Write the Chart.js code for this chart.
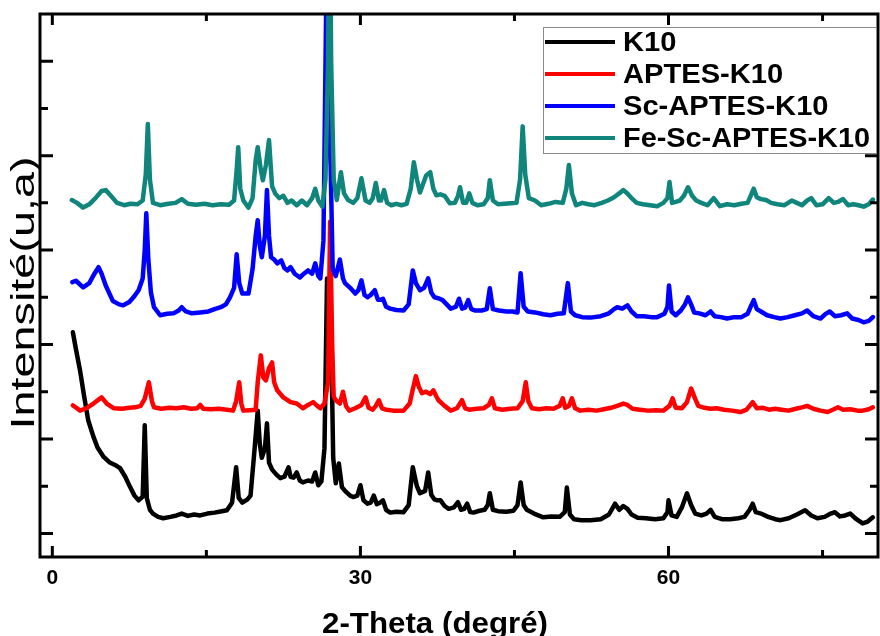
<!DOCTYPE html>
<html>
<head>
<meta charset="utf-8">
<script src="https://cdn.jsdelivr.net/npm/chart.js@4.4.1/dist/chart.umd.min.js"></script>
<style>
html, body { margin: 0; padding: 0; background: #fff; }
</style>
</head>
<body>
<canvas id="xrd" width="880" height="636"></canvas>
<script>
const FONT = '"Liberation Sans", Arial, sans-serif';

const seriesNames = ['K10', 'APTES-K10', 'Sc-APTES-K10', 'Fe-Sc-APTES-K10'];
const seriesColors = ['#000000', '#ff0000', '#0000ff', '#10857c'];

const xTicks = [0, 15, 30, 45, 60, 75];
const xLabels = [0, 30, 60];
const yTicks = [0, 1, 2, 3, 4, 5, 6, 7, 8, 9, 10];
const yMajor = [0, 2, 4, 6, 8, 10];

// K10
const k10Theta = [
  2.0, 2.3, 2.7, 3.1, 3.5, 4.0, 4.4, 5.0, 5.6, 6.1,
  6.6, 7.1, 7.6, 8.0, 8.4, 8.8, 9.0, 9.2, 9.5, 9.8,
  10.3, 10.8, 11.5, 12.1, 12.6, 13.2, 13.8, 14.4, 15.1, 15.8,
  16.5, 17.0, 17.5, 17.9, 18.15, 18.5, 19.0, 19.3, 19.7, 20.0,
  20.2, 20.4, 20.7, 20.9, 21.1, 21.4, 21.8, 22.2, 22.6, 23.0,
  23.2, 23.5, 23.8, 24.1, 24.4, 24.9, 25.3, 25.6, 25.9, 26.2,
  26.5, 26.75, 26.95, 27.15, 27.35, 27.6, 27.9, 28.2, 28.5, 29.0,
  29.3, 29.7, 30.0, 30.3, 30.7, 31.0, 31.3, 31.6, 31.9, 32.2,
  32.5, 32.9, 33.5, 34.2, 34.7, 35.1, 35.5, 35.8, 36.3, 36.6,
  36.9, 37.2, 37.5, 37.8, 38.2, 38.6, 39.1, 39.5, 39.8, 40.1,
  40.4, 40.7, 41.0, 41.6, 42.1, 42.4, 42.6, 42.9, 43.4, 44.2,
  44.9, 45.3, 45.6, 45.9, 46.2, 46.9, 47.8, 48.6, 49.4, 49.9,
  50.1, 50.4, 50.8, 51.5, 52.4, 53.4, 54.2, 54.8, 55.2, 55.6,
  56.0, 56.4, 57.0, 57.8, 58.7, 59.5, 59.9, 60.0, 60.3, 60.8,
  61.3, 61.8, 62.2, 62.6, 63.2, 63.7, 64.1, 64.5, 65.2, 66.0,
  66.8, 67.4, 67.9, 68.2, 68.5, 69.0, 69.7, 70.4, 70.9, 71.7,
  72.5, 73.3, 73.9, 74.5, 75.2, 75.8, 76.2, 76.7, 77.2, 77.7,
  78.3, 78.9, 79.4, 79.9
];
const k10Int = [
  4.26, 3.9, 3.45, 2.9, 2.39, 2.05, 1.82, 1.62, 1.5, 1.45,
  1.38, 1.2, 0.97, 0.8, 0.7, 0.78, 2.29, 0.75, 0.5, 0.42,
  0.35, 0.32, 0.35, 0.38, 0.42, 0.37, 0.4, 0.38, 0.42, 0.44,
  0.47, 0.49, 0.65, 1.4, 0.75, 0.65, 0.72, 0.8, 1.8, 2.6,
  1.9, 1.6, 1.8, 2.33, 1.5, 1.35, 1.25, 1.17, 1.2, 1.4,
  1.2, 1.18, 1.29, 1.12, 1.08, 1.12, 1.1, 1.29, 1.02, 1.1,
  1.8, 5.4, 3.6, 4.2, 1.6, 1.06, 1.48, 0.98, 0.9, 0.8,
  0.77, 0.8, 1.02, 0.7, 0.63, 0.65, 0.8, 0.62, 0.65, 0.7,
  0.5, 0.44, 0.46, 0.45, 0.6, 1.4, 1.0, 0.85, 0.9, 1.29,
  0.82, 0.72, 0.7, 0.7, 0.58, 0.52, 0.55, 0.66, 0.5, 0.52,
  0.63, 0.45, 0.44, 0.48, 0.5, 0.6, 0.85, 0.5, 0.47, 0.46,
  0.48, 0.6, 1.08, 0.6, 0.5, 0.42, 0.34, 0.36, 0.35, 0.45,
  0.97, 0.4, 0.3, 0.28, 0.28, 0.3, 0.4, 0.63, 0.5, 0.58,
  0.52, 0.4, 0.33, 0.32, 0.3, 0.32, 0.45, 0.7, 0.38, 0.35,
  0.55, 0.85, 0.6, 0.42, 0.38, 0.42, 0.5, 0.35, 0.3, 0.3,
  0.32, 0.35, 0.5, 0.63, 0.45, 0.42, 0.35, 0.3, 0.28, 0.32,
  0.4, 0.49, 0.38, 0.32, 0.35, 0.42, 0.45, 0.36, 0.38, 0.42,
  0.3, 0.21, 0.25, 0.34
];

// APTES-K10
const aptesTheta = [
  2.0, 2.4, 2.7, 3.3, 4.0, 4.8, 5.3, 6.0, 6.8, 7.5,
  8.1, 8.6, 9.0, 9.4, 9.7, 9.9, 10.6, 11.4, 12.1, 12.8,
  13.5, 14.1, 14.4, 14.7, 15.4, 16.2, 17.0, 17.6, 17.9, 18.2,
  18.4, 18.6, 19.2, 19.8, 20.0, 20.3, 20.55, 20.8, 21.1, 21.4,
  21.6, 21.9, 22.5, 23.2, 23.8, 24.4, 24.9, 25.4, 25.8, 26.1,
  26.5, 26.85, 27.05, 27.25, 27.4, 27.6, 28.0, 28.3, 28.6, 28.9,
  29.5, 30.1, 30.5, 30.8, 31.2, 31.5, 31.8, 32.1, 32.5, 33.2,
  34.2, 34.8, 35.1, 35.4, 35.7, 36.0, 36.4, 36.8, 37.1, 37.4,
  37.6, 38.2, 38.8, 39.4, 39.9, 40.2, 40.6, 41.3, 42.0, 42.5,
  42.8, 43.1, 43.8, 44.6, 45.3, 45.8, 46.1, 46.35, 46.7, 47.4,
  48.1, 48.8, 49.4, 49.7, 49.95, 50.3, 50.6, 50.9, 51.4, 52.2,
  53.0, 53.7, 54.4, 55.0, 55.6, 56.0, 56.5, 57.2, 58.0, 58.8,
  59.5, 60.1, 60.4, 60.7, 61.3, 61.8, 62.2, 62.6, 62.9, 63.5,
  64.1, 64.7, 65.4, 66.2, 67.0, 67.6, 68.2, 68.6, 69.2, 69.8,
  70.4, 71.0, 71.7, 72.4, 73.0, 73.5, 74.1, 74.8, 75.5, 76.0,
  76.5, 77.0, 77.7, 78.4, 78.9, 79.5, 79.9
];
const aptesInt = [
  2.71, 2.65, 2.6, 2.65, 2.75, 2.88, 2.75, 2.65, 2.64, 2.66,
  2.67, 2.7, 2.85, 3.2, 2.8, 2.67, 2.64, 2.66, 2.65, 2.67,
  2.64, 2.65, 2.72, 2.64, 2.63, 2.64, 2.62, 2.6, 2.8, 3.2,
  2.75, 2.6, 2.61, 2.62, 3.2, 3.77, 3.3, 3.24, 3.5, 3.62,
  3.2, 3.03, 2.88, 2.78, 2.75, 2.65, 2.72, 2.78, 2.7, 2.65,
  2.75, 3.2, 6.6, 4.0, 2.9, 2.82, 2.75, 3.0, 2.7, 2.6,
  2.65, 2.72, 2.88, 2.66, 2.62, 2.7, 2.82, 2.65, 2.62, 2.6,
  2.6, 2.75, 3.05, 3.33, 3.1, 2.97, 3.0, 2.95, 3.03, 2.9,
  2.82, 2.7, 2.6, 2.65, 2.82, 2.65, 2.62, 2.64, 2.65, 2.72,
  2.86, 2.65, 2.62, 2.64, 2.65, 2.8, 3.2, 2.8, 2.65, 2.63,
  2.65, 2.64, 2.7, 2.86, 2.66, 2.7, 2.86, 2.65, 2.6, 2.62,
  2.6, 2.63, 2.66, 2.7, 2.75, 2.72, 2.64, 2.62, 2.6, 2.61,
  2.6, 2.7, 2.86, 2.66, 2.65, 2.78, 3.07, 2.85, 2.7, 2.66,
  2.64, 2.65, 2.62, 2.6, 2.57, 2.62, 2.78, 2.65, 2.66, 2.62,
  2.64, 2.62, 2.6, 2.64, 2.67, 2.7, 2.64, 2.6, 2.57, 2.62,
  2.67, 2.62, 2.63, 2.6, 2.6, 2.63, 2.67
];

// Sc-APTES-K10
const scTheta = [
  1.95, 2.3, 3.0, 3.6, 4.1, 4.5, 4.8, 5.2, 5.9, 6.5,
  6.9, 7.5, 7.9, 8.4, 8.8, 9.0, 9.15, 9.35, 9.6, 9.9,
  10.5, 11.2, 11.8, 12.3, 12.6, 13.0, 13.6, 14.4, 15.2, 15.8,
  16.4, 16.9, 17.3, 17.7, 17.95, 18.2, 18.5, 19.1, 19.5, 19.8,
  20.0, 20.2, 20.4, 20.7, 20.9, 21.1, 21.3, 21.6, 21.9, 22.3,
  22.6, 22.9, 23.2, 23.6, 24.1, 24.5, 24.9, 25.3, 25.6, 25.9,
  26.1, 26.4, 26.7, 26.9, 27.1, 27.3, 27.6, 28.0, 28.3, 28.5,
  29.0, 29.5, 29.8, 30.1, 30.4, 30.7, 31.0, 31.4, 31.7, 32.0,
  32.2, 32.5, 32.9, 33.5, 34.2, 34.7, 35.1, 35.4, 35.8, 36.2,
  36.6, 36.9, 37.2, 37.6, 38.0, 38.4, 38.8, 39.3, 39.6, 39.9,
  40.2, 40.5, 40.8, 41.2, 41.8, 42.3, 42.6, 42.9, 43.5, 44.2,
  44.8, 45.3, 45.6, 45.9, 46.3, 47.0, 47.8, 48.5, 49.2, 49.8,
  50.2, 50.5, 50.9, 51.6, 52.4, 53.4, 54.2, 54.7, 55.0, 55.5,
  56.0, 56.4, 56.9, 57.6, 58.3, 58.9, 59.6, 59.9, 60.05, 60.3,
  60.7, 61.2, 61.6, 61.9, 62.2, 62.5, 63.0, 63.6, 64.1, 64.5,
  65.1, 65.7, 66.4, 67.1, 67.7, 68.0, 68.3, 68.6, 69.0, 69.6,
  70.3, 70.9, 71.6, 72.3, 73.0, 73.5, 74.1, 74.8, 75.3, 75.7,
  76.2, 76.8, 77.4, 77.9, 78.5, 79.0, 79.5, 79.9
];
const scInt = [
  5.32, 5.35, 5.21, 5.3, 5.5, 5.64, 5.5, 5.25, 4.92, 4.85,
  4.83, 4.9, 5.0, 5.15, 5.4, 6.0, 6.78, 5.8, 5.1, 4.79,
  4.62, 4.65, 4.66, 4.72, 4.79, 4.7, 4.66, 4.68, 4.7, 4.75,
  4.79, 4.85, 5.0, 5.2, 5.91, 5.3, 5.08, 5.08, 5.6, 6.3,
  6.63, 6.1, 5.85, 6.3, 7.27, 6.3, 5.85, 5.8, 5.72, 5.78,
  5.62, 5.57, 5.64, 5.5, 5.42, 5.5, 5.57, 5.5, 5.72, 5.45,
  5.4, 6.2, 11.8, 9.0, 7.8, 5.6, 5.45, 5.8, 5.4, 5.3,
  5.2, 5.08, 5.15, 5.36, 5.05, 5.0, 5.05, 5.15, 4.95, 4.95,
  4.97, 4.8, 4.76, 4.73, 4.72, 4.85, 5.57, 5.3, 5.15, 5.2,
  5.4, 5.1, 5.0, 4.98, 4.94, 4.85, 4.76, 4.8, 4.97, 4.76,
  4.78, 4.94, 4.75, 4.72, 4.72, 4.75, 5.19, 4.75, 4.72, 4.7,
  4.7, 4.68, 5.51, 4.8, 4.7, 4.68, 4.64, 4.62, 4.65, 4.66,
  5.3, 4.7, 4.62, 4.58, 4.57, 4.6, 4.66, 4.75, 4.79, 4.76,
  4.83, 4.7, 4.6, 4.6, 4.58, 4.58, 4.65, 4.8, 5.25, 4.7,
  4.62, 4.72, 4.85, 5.0, 4.85, 4.68, 4.66, 4.62, 4.7, 4.6,
  4.58, 4.55, 4.58, 4.58, 4.65, 4.8, 4.94, 4.75, 4.7, 4.62,
  4.58, 4.55, 4.58, 4.62, 4.66, 4.72, 4.6, 4.55, 4.65, 4.7,
  4.6, 4.62, 4.66, 4.55, 4.52, 4.47, 4.5, 4.58
];

// Fe-Sc-APTES-K10
const feTheta = [
  1.9, 2.4, 3.0, 3.6, 4.2, 4.8, 5.2, 5.7, 6.3, 7.0,
  7.6, 8.3, 8.8, 9.1, 9.3, 9.5, 9.8, 10.5, 11.3, 12.0,
  12.6, 13.2, 14.0, 14.8, 15.6, 16.4, 17.2, 17.7, 17.95, 18.1,
  18.3, 18.6, 19.1, 19.5, 19.8, 20.0, 20.3, 20.5, 20.8, 21.1,
  21.4, 21.7, 22.1, 22.5, 22.9, 23.3, 23.8, 24.3, 24.8, 25.3,
  25.6, 25.9, 26.3, 26.6, 26.85, 27.0, 27.15, 27.4, 27.7, 28.1,
  28.4, 28.8, 29.3, 29.7, 30.1, 30.5, 30.9, 31.2, 31.5, 31.8,
  32.0, 32.3, 32.6, 33.0, 33.5, 34.0, 34.5, 34.9, 35.2, 35.5,
  35.8, 36.1, 36.4, 36.8, 37.1, 37.4, 37.8, 38.2, 38.7, 39.2,
  39.5, 39.7, 40.0, 40.3, 40.6, 40.9, 41.4, 42.0, 42.4, 42.6,
  42.9, 43.4, 44.0, 44.6, 45.2, 45.55, 45.8, 46.05, 46.4, 47.0,
  47.6, 48.3, 49.0, 49.7, 50.05, 50.3, 50.6, 51.0, 51.6, 52.2,
  52.8, 53.5, 54.1, 54.7, 55.2, 55.6, 56.0, 56.4, 56.9, 57.5,
  58.2, 58.9, 59.5, 59.9, 60.1, 60.35, 60.7, 61.1, 61.5, 61.9,
  62.3, 62.7, 63.2, 63.8, 64.4, 65.0, 65.7, 66.4, 67.1, 67.7,
  68.0, 68.3, 68.6, 69.0, 69.5, 70.0, 70.6, 71.3, 72.0, 72.5,
  73.0, 73.5, 73.9, 74.4, 75.0, 75.6, 76.1, 76.5, 77.0, 77.5,
  78.0, 78.5, 79.0, 79.5, 79.9
];
const feInt = [
  7.06, 7.0, 6.9, 6.97, 7.1, 7.25, 7.27, 7.15, 7.0, 6.95,
  6.98, 6.97, 7.05, 7.6, 8.67, 7.5, 7.0, 6.95, 6.98, 7.0,
  7.08, 6.98, 6.96, 6.98, 6.95, 6.97, 6.96, 7.05, 7.7, 8.18,
  7.3, 7.05, 6.9, 7.1, 7.9, 8.18, 7.7, 7.48, 7.8, 8.33,
  7.35, 7.2, 7.1, 7.15, 7.0, 7.05, 6.95, 7.05, 6.95, 7.1,
  7.3, 7.05, 6.92, 7.5, 10.0, 14.0, 10.0, 7.5, 7.06, 7.65,
  7.2, 7.06, 7.0, 7.1, 7.52, 7.05, 7.0, 7.1, 7.42, 7.05,
  7.05, 7.27, 7.0, 6.95, 6.98, 6.95, 6.98, 7.3, 7.86, 7.5,
  7.22, 7.4, 7.58, 7.65, 7.3, 7.16, 7.18, 7.15, 6.99, 7.0,
  7.15, 7.33, 7.0, 7.0, 7.2, 7.0, 6.95, 6.97, 7.1, 7.48,
  7.05, 6.97, 6.98, 6.99, 7.0, 7.5, 8.62, 7.6, 7.1, 7.05,
  6.95, 6.98, 7.02, 7.0, 7.3, 7.8, 7.2, 6.95, 7.0, 6.97,
  6.95, 7.0, 7.05, 7.12, 7.2, 7.27, 7.2, 7.1, 7.0, 6.97,
  6.95, 6.93, 7.0, 7.1, 7.44, 7.0, 7.02, 7.05, 7.15, 7.33,
  7.15, 7.05, 7.0, 6.95, 7.1, 6.93, 6.97, 6.95, 6.98, 7.0,
  7.15, 7.3, 7.12, 7.08, 7.06, 7.0, 6.97, 6.95, 7.05, 7.0,
  6.95, 7.05, 7.1, 6.95, 6.97, 7.1, 7.0, 7.02, 7.08, 6.95,
  6.97, 6.95, 6.92, 6.97, 7.07
];

const thetas = [k10Theta, aptesTheta, scTheta, feTheta];
const intensities = [k10Int, aptesInt, scInt, feInt];

function toPoints(theta, values) {
  return theta.map((t, i) => ({ x: t, y: values[i] }));
}

// frame, inward ticks, axis titles and the boxed legend
const decorations = {
  id: 'decorations',
  afterDraw(chart) {
    const { ctx, chartArea: a, scales } = chart;
    const sx = scales.x, sy = scales.y;
    ctx.save();
    ctx.strokeStyle = '#000';
    ctx.lineWidth = 3;
    ctx.strokeRect(a.left, a.top, a.right - a.left, a.bottom - a.top);

    ctx.beginPath();
    for (const v of xTicks) {
      const px = sx.getPixelForValue(v);
      const len = xLabels.includes(v) ? 11 : 7;
      ctx.moveTo(px, a.bottom); ctx.lineTo(px, a.bottom - len);
      ctx.moveTo(px, a.top); ctx.lineTo(px, a.top + len);
    }
    for (const v of yTicks) {
      const py = sy.getPixelForValue(v);
      const len = yMajor.includes(v) ? 13 : 8;
      ctx.moveTo(a.left, py); ctx.lineTo(a.left + len, py);
      ctx.moveTo(a.right, py); ctx.lineTo(a.right - len, py);
    }
    ctx.stroke();

    ctx.fillStyle = '#000';
    // x title
    ctx.font = 'bold 30px ' + FONT;
    ctx.textAlign = 'center';
    ctx.textBaseline = 'alphabetic';
    const xt = '2-Theta (degré)';
    const xw = ctx.measureText(xt).width;
    ctx.save();
    ctx.translate(435, 633);
    ctx.scale(226 / xw, 1);
    ctx.fillText(xt, 0, 0);
    ctx.restore();

    // y title
    ctx.font = '34px ' + FONT;
    const yt = 'Intensité(u,a)';
    const yw = ctx.measureText(yt).width;
    ctx.save();
    ctx.translate(34, 293);
    ctx.rotate(-Math.PI / 2);
    ctx.scale(273 / yw, 1);
    ctx.fillText(yt, 0, 0);
    ctx.restore();

    // legend
    ctx.fillStyle = '#fff';
    ctx.fillRect(543, 27, 333, 126);
    ctx.strokeStyle = '#8a8a8a';
    ctx.lineWidth = 1;
    ctx.strokeRect(543.5, 27.5, 333, 126);
    ctx.font = 'bold 28px ' + FONT;
    ctx.textAlign = 'left';
    ctx.textBaseline = 'middle';
    chart.data.datasets.forEach((ds, i) => {
      const yy = 42 + i * 32;
      ctx.strokeStyle = ds.borderColor;
      ctx.lineWidth = 4;
      ctx.beginPath();
      ctx.moveTo(545, yy); ctx.lineTo(615, yy);
      ctx.stroke();
      ctx.fillStyle = '#000';
      const tw = ctx.measureText(ds.label).width;
      ctx.save();
      ctx.translate(623, yy + 1);
      ctx.scale(Math.min(1.04, 247 / tw), 1);
      ctx.fillText(ds.label, 0, 0);
      ctx.restore();
    });
    ctx.restore();
  }
};

new Chart(document.getElementById('xrd'), {
  type: 'line',
  data: {
    datasets: seriesNames.map((name, i) => ({
      label: name,
      data: toPoints(thetas[i], intensities[i]),
      borderColor: seriesColors[i],
      borderWidth: 4.5,
      borderJoinStyle: 'round',
      borderCapStyle: 'round',
      pointRadius: 0,
      tension: 0,
      fill: false,
      order: 3 - i
    }))
  },
  options: {
    responsive: false,
    devicePixelRatio: 1,
    animation: false,
    events: [],
    layout: { padding: { top: 14, right: 2, left: 0, bottom: 0 } },
    plugins: {
      legend: { display: false },
      tooltip: { enabled: false }
    },
    scales: {
      x: {
        type: 'linear',
        min: -1.2,
        max: 80.4,
        grid: { display: false, drawTicks: false },
        border: { display: false },
        afterBuildTicks: (scale) => { scale.ticks = xTicks.map(v => ({ value: v })); },
        afterFit: (scale) => { scale.height = 79; },
        ticks: {
          padding: 9,
          color: '#000',
          font: { family: FONT, size: 21, weight: 'bold' },
          callback: (v) => xLabels.includes(v) ? String(v) : ''
        }
      },
      y: {
        min: -0.5,
        max: 11,
        grid: { display: false, drawTicks: false },
        border: { display: false },
        afterFit: (scale) => { scale.width = 40; },
        ticks: { display: false }
      }
    }
  },
  plugins: [decorations]
});
</script>
</body>
</html>
